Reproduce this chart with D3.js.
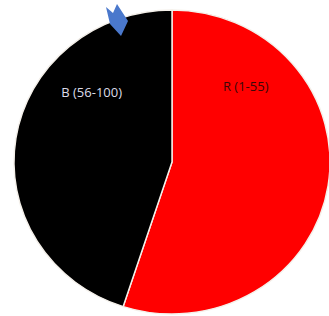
<!DOCTYPE html>
<html>
<head>
  <script src='https://d3js.org/d3.v7.min.js'></script>
  <style>
    body { margin: 0; background: #fff; }
  </style>
</head>
<body>
  <svg id="canvas" width="329" height="316"></svg>
  <script>
    // slice data (split line sits at ~198 deg => 55 / 45)
    const labels = ['R (1-55)', 'B (56-100)'];
    const values = [55, 45];
    const colors = ['#ff0000', '#000000'];
    const textColors = ['#3a0808', '#dcdce8'];

    const svg = d3.select('svg#canvas');

    // pie is slightly wider than tall in the reference
    const cx = 172, cy = 162, rx = 158, ry = 152;

    const pie = d3.pie().sort(null).value(d => d.value);
    const arc = d3.arc().innerRadius(0).outerRadius(ry);

    const slices = pie(labels.map((l, i) => ({ label: l, value: values[i], i: i })));

    const chart = svg.append('g')
      .attr('transform', `translate(${cx},${cy}) scale(${rx / ry},1)`);

    chart.selectAll('path')
      .data(slices)
      .join('path')
      .attr('d', arc)
      .attr('fill', d => colors[d.data.i])
      .attr('stroke', '#f4f0ea')
      .attr('stroke-width', 1.4)
      .attr('stroke-linejoin', 'round');

    // labels placed by hand (label angle / radius around the centre)
    const labelArc = [
      { angle: 43, radius: 104 },
      { angle: 312, radius: 104 }
    ];
    svg.selectAll('text.lbl')
      .data(slices)
      .join('text')
      .attr('class', 'lbl')
      .attr('x', d => {
        const a = labelArc[d.data.i];
        return cx + Math.sin(a.angle * Math.PI / 180) * a.radius * rx / ry;
      })
      .attr('y', d => {
        const a = labelArc[d.data.i];
        return cy - Math.cos(a.angle * Math.PI / 180) * a.radius;
      })
      .attr('text-anchor', 'middle')
      .attr('dominant-baseline', 'central')
      .style('font-family', 'Open Sans, sans-serif')
      .style('font-size', '13px')
      .attr('fill', d => textColors[d.data.i])
      .text(d => d.data.label);

    // small blue arrow shape at the top of the black slice
    svg.append('polygon')
      .attr('points', '106,7 113,13 117,4 128,21 121,36 110,24')
      .attr('fill', '#4a78cc');
  </script>
</body>
</html>
